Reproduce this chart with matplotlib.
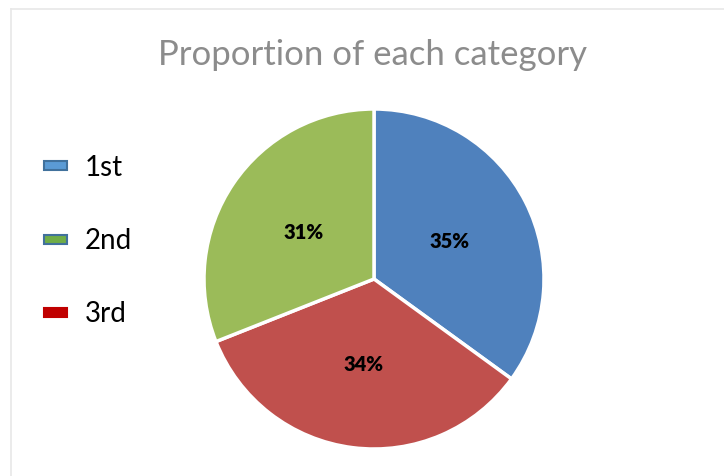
import matplotlib
matplotlib.use("Agg")
import matplotlib.pyplot as plt
from matplotlib.patches import Rectangle
from matplotlib.lines import Line2D

plt.rcParams['font.family'] = ['Lato', 'DejaVu Sans']

title = "Proportion of each category"
categories = ["1st", "2nd", "3rd"]
values = [35, 31, 34]
slice_colors = ["#4F81BD", "#9BBB59", "#C0504D"]
legend_fill = ["#5B9BD5", "#70AD47", "#C00000"]
legend_edge = ["#41719C", "#41719C", "#C00000"]
draw_order = [0, 2, 1]  # clockwise from top

W, H = 724, 477
fig = plt.figure(figsize=(W / 100, H / 100), dpi=100)
fig.patch.set_facecolor("white")

# chart border (light gray)
fig.add_artist(Line2D([11 / W, 1.0], [1 - 10 / H, 1 - 10 / H], color="#E8E8E8", lw=1.2))
fig.add_artist(Line2D([11 / W, 11 / W], [0.0, 1 - 10 / H], color="#E8E8E8", lw=1.2))

# pie axes: center (374,280) radius 170 px
cx, cy, r = 374, 280, 170
ax = fig.add_axes([(cx - r) / W, (H - cy - r) / H, 2 * r / W, 2 * r / H])
vals = [values[i] for i in draw_order]
cols = [slice_colors[i] for i in draw_order]
wedges, texts, autotexts = ax.pie(
    vals, colors=cols, startangle=90, counterclock=False,
    autopct=lambda p: f"{p:.0f}%", pctdistance=0.5, radius=1,
    wedgeprops=dict(edgecolor="white", linewidth=2.5),
    textprops=dict(fontsize=14.5, fontweight="heavy", color="black"))
for w in wedges:
    w.set_clip_on(False)
ax.set_xlim(-1, 1)
ax.set_ylim(-1, 1)
ax.set_aspect("equal")
ax.axis("off")

fig.text(373 / W, 1 - 55 / H, title, ha="center", va="center",
         fontsize=25, color="#8C8C8C")

# legend
ys = [166, 240, 313]
for cat, y, fc, ec in zip(categories, ys, legend_fill, legend_edge):
    fig.add_artist(Rectangle((44 / W, 1 - (y + 4.5) / H), 23 / W, 9 / H,
                             facecolor=fc, edgecolor=ec, lw=1.5,
                             transform=fig.transFigure))
    fig.text(85 / W, 1 - (y + 9.5) / H, cat, ha="left", va="baseline",
             fontsize=20, color="black")

fig.savefig("out.png", dpi=100, facecolor="white")
